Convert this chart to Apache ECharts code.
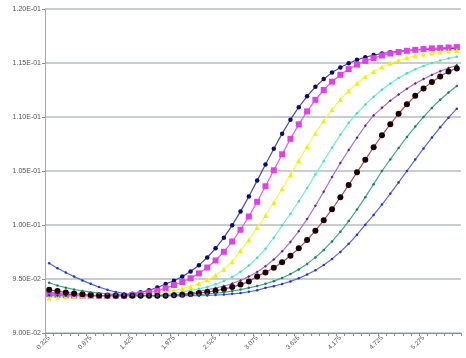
<!DOCTYPE html>
<html><head><meta charset="utf-8">
<script src="https://cdn.jsdelivr.net/npm/echarts@6/dist/echarts.min.js"></script>
<style>html,body{margin:0;padding:0;background:#fff}#c{width:466px;height:358px}</style>
</head><body><div id="c"></div>
<script>
const categories = ["0.325","0.435","0.545","0.655","0.765","0.875","0.985","1.095","1.205","1.315",
"1.425","1.535","1.645","1.755","1.865","1.975","2.085","2.195","2.305","2.415",
"2.525","2.635","2.745","2.855","2.965","3.075","3.185","3.295","3.405","3.515",
"3.625","3.735","3.845","3.955","4.065","4.175","4.285","4.395","4.505","4.615",
"4.725","4.835","4.945","5.055","5.165","5.275","5.385","5.495","5.605","5.715"];

const yTicks = [0.090, 0.095, 0.100, 0.105, 0.110, 0.115, 0.120];

const s1 = [0.09375,0.09365,0.09357,0.09352,0.09348,0.09345,0.09345,0.09345,0.09350,0.09354,
0.09363,0.09377,0.09395,0.09421,0.09454,0.09484,0.09522,0.09569,0.09628,0.09699,
0.09784,0.09883,0.09997,0.10126,0.10264,0.10411,0.10560,0.10706,0.10846,0.10975,
0.11091,0.11192,0.11279,0.11351,0.11411,0.11459,0.11498,0.11529,0.11553,0.11573,
0.11588,0.11599,0.11609,0.11616,0.11621,0.11625,0.11629,0.11631,0.11633,0.11635];

const s2 = [0.09360,0.09355,0.09350,0.09345,0.09345,0.09345,0.09345,0.09345,0.09345,0.09345,
0.09352,0.09361,0.09375,0.09391,0.09414,0.09444,0.09472,0.09507,0.09552,0.09606,
0.09672,0.09752,0.09847,0.09956,0.10079,0.10215,0.10359,0.10507,0.10655,0.10798,
0.10932,0.11052,0.11159,0.11250,0.11327,0.11391,0.11443,0.11485,0.11519,0.11545,
0.11570,0.11588,0.11602,0.11613,0.11622,0.11629,0.11635,0.11640,0.11644,0.11647];

const s3 = [0.09325,0.09330,0.09335,0.09340,0.09343,0.09345,0.09345,0.09345,0.09345,0.09345,
0.09345,0.09350,0.09356,0.09366,0.09377,0.09395,0.09411,0.09431,0.09458,0.09492,
0.09535,0.09591,0.09659,0.09765,0.09861,0.09978,0.10088,0.10208,0.10335,0.10466,
0.10598,0.10727,0.10850,0.10964,0.11069,0.11161,0.11243,0.11313,0.11372,0.11422,
0.11463,0.11497,0.11525,0.11548,0.11566,0.11581,0.11593,0.11602,0.11610,0.11616];

const s4 = [0.09340,0.09342,0.09345,0.09345,0.09345,0.09345,0.09345,0.09345,0.09345,0.09345,
0.09345,0.09345,0.09347,0.09352,0.09359,0.09368,0.09379,0.09394,0.09409,0.09427,
0.09451,0.09481,0.09519,0.09566,0.09625,0.09696,0.09781,0.09882,0.09997,0.10104,
0.10220,0.10342,0.10467,0.10593,0.10717,0.10835,0.10946,0.11035,0.11115,0.11188,
0.11253,0.11310,0.11361,0.11404,0.11441,0.11473,0.11500,0.11523,0.11543,0.11559];

const s5 = [0.09350,0.09348,0.09345,0.09345,0.09345,0.09345,0.09345,0.09345,0.09345,0.09345,
0.09345,0.09345,0.09345,0.09345,0.09350,0.09354,0.09361,0.09370,0.09384,0.09401,
0.09416,0.09435,0.09458,0.09486,0.09522,0.09565,0.09618,0.09681,0.09756,0.09843,
0.09943,0.10055,0.10178,0.10309,0.10445,0.10573,0.10694,0.10809,0.10919,0.11015,
0.11085,0.11150,0.11209,0.11262,0.11310,0.11352,0.11390,0.11424,0.11453,0.11479];

const s6 = [0.09400,0.09388,0.09376,0.09366,0.09358,0.09352,0.09348,0.09345,0.09345,0.09345,
0.09345,0.09345,0.09345,0.09345,0.09345,0.09350,0.09354,0.09361,0.09370,0.09379,
0.09391,0.09407,0.09425,0.09448,0.09478,0.09524,0.09561,0.09605,0.09656,0.09715,
0.09784,0.09861,0.09947,0.10043,0.10146,0.10256,0.10371,0.10488,0.10605,0.10720,
0.10830,0.10934,0.11030,0.11118,0.11196,0.11265,0.11325,0.11376,0.11421,0.11450];

const s7 = [0.09465,0.09440,0.09420,0.09403,0.09390,0.09378,0.09369,0.09362,0.09356,0.09352,
0.09349,0.09347,0.09345,0.09345,0.09345,0.09345,0.09345,0.09350,0.09354,0.09361,
0.09368,0.09377,0.09389,0.09402,0.09418,0.09435,0.09456,0.09480,0.09510,0.09546,
0.09589,0.09640,0.09700,0.09769,0.09848,0.09937,0.10036,0.10143,0.10258,0.10378,
0.10500,0.10607,0.10713,0.10815,0.10911,0.11001,0.11084,0.11160,0.11227,0.11287];

const s8 = [0.09645,0.09600,0.09560,0.09522,0.09487,0.09455,0.09425,0.09400,0.09380,0.09366,
0.09356,0.09350,0.09347,0.09345,0.09345,0.09345,0.09345,0.09345,0.09345,0.09347,
0.09352,0.09356,0.09363,0.09370,0.09382,0.09395,0.09418,0.09434,0.09454,0.09478,
0.09506,0.09541,0.09581,0.09630,0.09686,0.09751,0.09826,0.09910,0.10003,0.10093,
0.10189,0.10290,0.10394,0.10500,0.10606,0.10709,0.10810,0.10905,0.10994,0.11077];

const seriesDefs = [
  {name:'S1', data:s1, line:'#4848b8', mark:'#0a0a70', symbol:'circle', size:4.5},
  {name:'S2', data:s2, line:'#f050f0', mark:'#e040e8', symbol:'rect', size:6},
  {name:'S3', data:s3, line:'#f8f840', mark:'#eeee10', symbol:'triangle', size:5},
  {name:'S4', data:s4, line:'#70eed0', mark:'#44ddbb', symbol:'circle', size:2.5},
  {name:'S5', data:s5, line:'#a870dc', mark:'#552288', symbol:'diamond', size:3},
  {name:'S6', data:s6, line:'#b05050', mark:'#1a0000', symbol:'circle', size:6},
  {name:'S7', data:s7, line:'#40a882', mark:'#227755', symbol:'circle', size:2.5},
  {name:'S8', data:s8, line:'#5566f0', mark:'#2233cc', symbol:'circle', size:2.5}
];

function fmtE(v){
  const s = v.toExponential(2).toUpperCase();
  const m = s.match(/^([0-9.]+)E([+-])(\d+)$/);
  if(!m) return s;
  return m[1] + 'E' + m[2] + (m[3].length<2 ? '0'+m[3] : m[3]);
}

const chart = echarts.init(document.getElementById('c'), null, {renderer:'canvas'});
chart.setOption({
  animation:false,
  backgroundColor:'#ffffff',
  grid:{left:45, right:5, top:9, bottom:25, containLabel:false},
  xAxis:{
    type:'category', data:categories, boundaryGap:true,
    axisLine:{lineStyle:{color:'#8a9090', width:1}},
    axisTick:{show:true, interval:0, length:3, lineStyle:{color:'#8a9090'}},
    axisLabel:{interval:4, rotate:45, fontSize:6.5, color:'#555', fontFamily:'Liberation Sans', margin:4},
    splitLine:{show:false}
  },
  yAxis:{
    type:'value', min:yTicks[0], max:yTicks[yTicks.length-1], interval:0.005,
    axisLine:{show:true, lineStyle:{color:'#a0a8a8', width:1}},
    axisTick:{show:true, length:3, lineStyle:{color:'#8a9090'}},
    axisLabel:{fontSize:7, color:'#555', fontFamily:'Liberation Sans', margin:4, formatter:fmtE},
    splitLine:{show:true, lineStyle:{color:'#b6bebe', width:1.5}}
  },
  series: seriesDefs.map(d => ({
    name:d.name, type:'line', data:d.data, smooth:false,
    symbol:d.symbol, symbolSize:d.size, showSymbol:true, showAllSymbol:true,
    lineStyle:{color:d.line, width:1.2},
    itemStyle:{color:d.mark, borderWidth:0}
  }))
});
</script>
</body></html>
